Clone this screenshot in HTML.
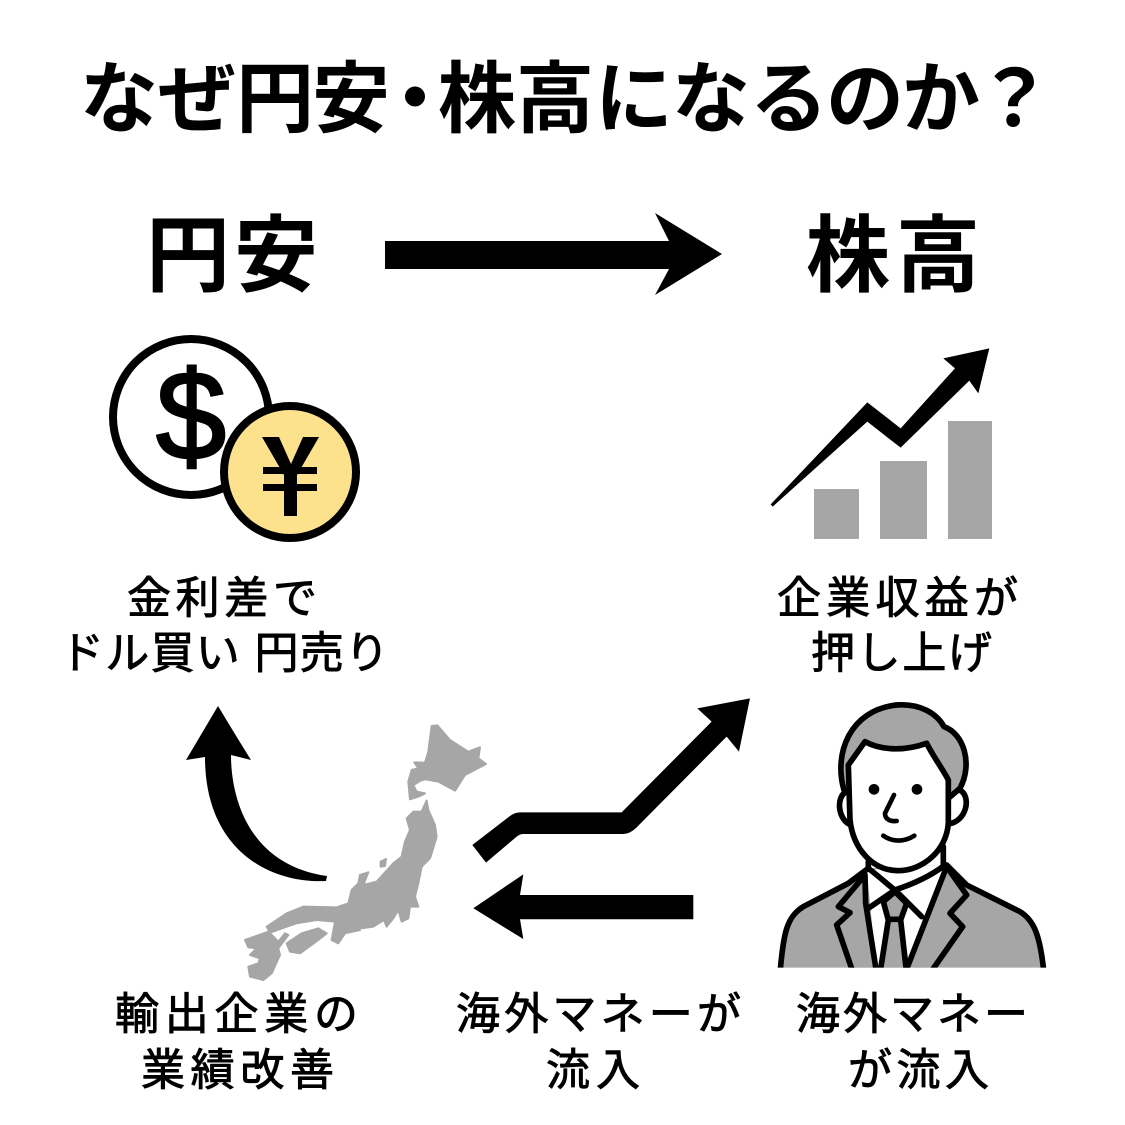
<!DOCTYPE html>
<html lang="ja"><head><meta charset="utf-8"><title>なぜ円安・株高になるのか？</title>
<style>html,body{margin:0;padding:0;background:#fff}svg{display:block}
text{font-family:"Liberation Sans","Noto Sans CJK JP",sans-serif;fill:#000}
.l{font-size:44px;font-weight:400;stroke:#000;stroke-width:.9px}</style></head><body>
<svg width="1125" height="1125" viewBox="0 0 1125 1125" xmlns="http://www.w3.org/2000/svg">
<defs><clipPath id="c"><rect x="0" y="0" width="870" height="833"/></clipPath></defs>
<rect width="1125" height="1125" fill="#fff"/>
<text x="80 158 236 312 376 438 516 595 672 750 826 902 975" y="126" font-size="78" font-weight="700">なぜ円安・株高になるのか？</text>
<text x="146" y="285" font-size="84" font-weight="700" textLength="172" lengthAdjust="spacing">円安</text>
<text x="806" y="285" font-size="84" font-weight="700" textLength="174" lengthAdjust="spacing">株高</text>
<polygon points="385,241 669,241 655,213 722,254 655,295 669,269 385,269" fill="#000"/>

<!-- coins -->
<circle cx="191" cy="417" r="78" fill="#fff" stroke="#000" stroke-width="8"/>
<text x="191" y="459" font-size="126" text-anchor="middle" font-weight="400" stroke="#000" stroke-width="2.5" style="font-family:'Liberation Sans',sans-serif">$</text>
<circle cx="290" cy="472" r="66" fill="#fde28e" stroke="#000" stroke-width="8"/>
<g fill="#000"><polygon points="262,437 279,437 291,464 303,437 319,437 297,475 297,516 284,516 284,475"/>
<rect x="263" y="467" width="54" height="7"/><rect x="263" y="484" width="54" height="7"/></g>

<!-- chart -->
<g fill="#a6a6a6"><rect x="814" y="489" width="45" height="50"/><rect x="880" y="461" width="47" height="78"/><rect x="948" y="421" width="44" height="118"/></g>
<g transform="translate(760,340) scale(.3333)"><polygon fill="#000" points="32,493 322,187 422,265 585,85 550,55 688,25 655,160 628,122 422,323 322,245 38,500"/></g>

<text class="l" x="127" y="613" textLength="190" lengthAdjust="spacing">金利差で</text>
<text class="l" x="60" y="668" textLength="329" lengthAdjust="spacing" xml:space="preserve">ドル買い 円売り</text>
<text class="l" x="777" y="613" textLength="241" lengthAdjust="spacing">企業収益が</text>
<text class="l" x="811" y="668" textLength="181" lengthAdjust="spacing">押し上げ</text>

<!-- curved arrow -->
<path fill="#000" d="M218,706 Q236,736 251,760 L231,755 C231,800 250,865 327,876 L326,881 C270,884 205,850 205,757 L186,760 Z"/>

<!-- japan -->
<g transform="translate(230,710) scale(.3333)" fill="#a6a6a6" stroke="#a6a6a6" stroke-width="6" stroke-linejoin="round">
<path d="M605,48 L622,46 L660,90 L715,125 L750,112 L745,145 L768,162 L705,195 L675,242 L625,215 L585,208 L572,212 L550,225 L560,245 L585,250 L570,258 L540,268 L535,215 L545,180 L565,175 L553,157 L585,158 L595,125 Z"/>
<path d="M590,272 L595,300 L615,345 L620,380 L605,430 L600,445 L575,470 L565,520 L555,560 L565,590 L540,590 L535,625 L515,635 L505,600 L490,625 L470,650 L462,630 L430,650 L395,655 L365,650 L390,660 L345,670 L325,700 L305,690 L315,635 L260,630 L200,640 L170,650 L120,668 L110,650 L170,610 L220,590 L320,592 L355,580 L365,540 L385,520 L390,495 L415,487 L400,525 L440,515 L490,460 L515,440 L525,395 L540,360 L530,325 L550,305 L575,305 Z"/>
<path d="M452,455 L468,447 L465,468 L452,470 Z"/>
<path d="M170,700 L215,670 L265,655 L290,670 L265,690 L210,730 L180,725 Z"/>
<path d="M45,690 L115,665 L145,695 L165,670 L175,675 L145,715 L150,735 L125,790 L100,810 L60,800 L55,770 L85,760 L90,745 L60,735 L80,715 L55,712 Z"/>
</g>

<!-- right arrows -->
<g transform="translate(460,690) scale(.3333)" fill="#000">
<path d="M37,465 L150,378 Q165,367 180,367 L485,367 L755,95 L712,55 L870,25 L837,185 L800,140 L530,412 Q510,432 490,432 L190,432 Q180,432 170,440 L78,518 Z"/>
<polygon points="40,655 190,553 180,615 700,615 700,688 180,688 190,747"/>
</g>

<!-- man -->
<g transform="translate(770,690) scale(.3333)" stroke="#000" stroke-width="17" stroke-linejoin="round" stroke-linecap="round">
<g clip-path="url(#c)">
<path fill="#a6a6a6" stroke="none" d="M30,840 C40,730 50,680 100,650 L235,580 L295,535 L520,525 L590,585 L750,665 C790,690 810,730 822,840 Z"/>
<path fill="#fff" stroke="none" d="M290,540 L520,525 L460,800 L320,840 Z"/>
<path fill="none" d="M30,850 C40,730 50,680 100,650 L235,580 L295,535 M530,525 L590,585 L750,665 C790,690 810,730 822,850"/>
<path fill="#a6a6a6" d="M285,555 L205,650 L240,668 L200,705 L250,850 L320,850 L287,640 Z"/>
<path fill="#a6a6a6" d="M530,530 L590,615 L540,670 L578,710 L480,850 L405,850 Z"/>
<path fill="#a6a6a6" d="M375,605 L340,635 L355,690 L330,850 L410,850 L392,690 L410,640 Z"/>
<path fill="none" d="M295,535 C340,570 360,590 375,600 C420,585 480,560 525,525 M375,600 L295,655 M375,600 L455,680 M355,688 L392,688"/>
</g>
<path fill="#fff" d="M230,305 C195,320 205,395 245,405 L535,402 C590,395 605,320 570,300 L545,300 L240,300 Z"/>
<path fill="#a6a6a6" d="M222,300 C190,190 240,60 380,45 C450,40 500,70 522,110 C580,130 610,220 570,295 L535,325 L240,310 Z"/>
<path fill="#fff" d="M235,225 L285,155 C330,180 400,185 470,160 C490,200 520,240 535,270 L535,400 C530,480 460,542 385,542 C310,542 250,480 240,390 Z"/>
<path fill="none" stroke-width="14" d="M372,315 L345,370 C345,390 365,395 380,393 M340,437 C370,458 405,455 433,437"/>
<path fill="none" d="M295,515 L295,535 M520,470 L520,525"/>
<circle cx="312" cy="298" r="16" fill="#000" stroke="none"/><circle cx="441" cy="298" r="16" fill="#000" stroke="none"/>
</g>

<text class="l" x="115" y="1029" textLength="243" lengthAdjust="spacing">輸出企業の</text>
<text class="l" x="141" y="1085" textLength="193" lengthAdjust="spacing">業績改善</text>
<text class="l" x="456" y="1029" textLength="285" lengthAdjust="spacing">海外マネーが</text>
<text class="l" x="546" y="1085" textLength="94" lengthAdjust="spacing">流入</text>
<text class="l" x="796" y="1029" textLength="232" lengthAdjust="spacing">海外マネー</text>
<text class="l" x="848" y="1085" textLength="141" lengthAdjust="spacing">が流入</text>
</svg></body></html>
